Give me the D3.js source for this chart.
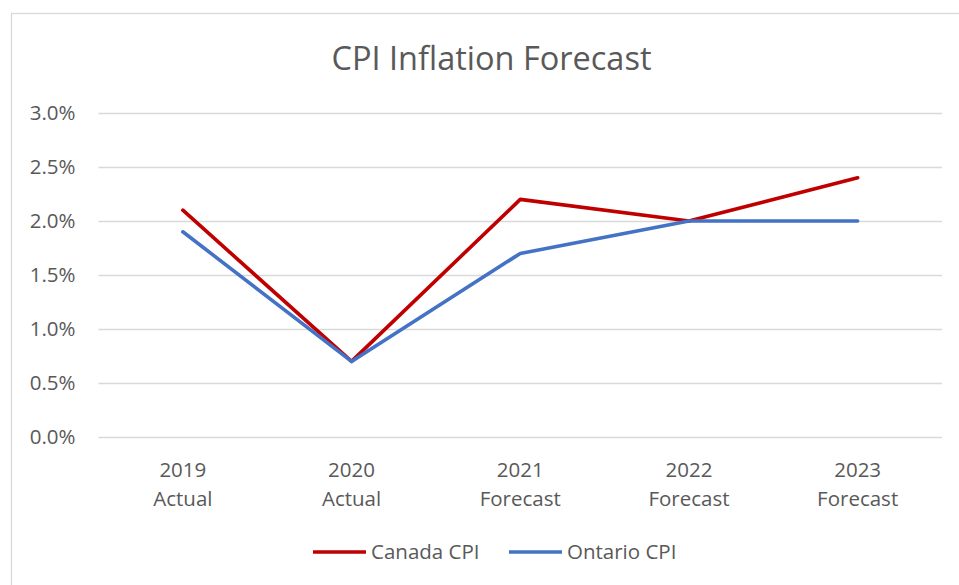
<!DOCTYPE html>
<html>
<head>
<meta charset="utf-8">
<script src="https://cdn.jsdelivr.net/npm/d3@7"></script>
<style>
  body { margin: 0; background: #fff; }
  svg { display: block; font-family: "Open Sans", sans-serif; }
</style>
</head>
<body>
<div id="chart"></div>
<script>
var years = ['2019', '2020', '2021', '2022', '2023'];
var kinds = ['Actual', 'Actual', 'Forecast', 'Forecast', 'Forecast'];
var canadaCPI = [2.1, 0.7, 2.2, 2.0, 2.4];
var ontarioCPI = [1.9, 0.7, 1.7, 2.0, 2.0];
var yTicks = [0, 0.5, 1.0, 1.5, 2.0, 2.5, 3.0];
var seriesNames = ['Canada CPI', 'Ontario CPI'];
var seriesColors = ['#C00000', '#4472C4'];

var width = 959, height = 585;
var margin = {left: 98.5, right: 17, top: 113, bottom: 148};
var textColor = '#595959';

var svg = d3.select('#chart')
    .append('svg')
    .attr('width', width)
    .attr('height', height);

// chart frame (runs off the right/bottom edge like the source)
svg.append('rect')
    .attr('x', 11.5)
    .attr('y', 13.5)
    .attr('width', width + 20)
    .attr('height', height + 20)
    .attr('fill', '#fff')
    .attr('stroke', '#d9d9d9')
    .attr('stroke-width', 1.3);

var x = d3.scaleBand()
    .domain(years)
    .range([margin.left, width - margin.right]);

var y = d3.scaleLinear()
    .domain([0, 3])
    .range([height - margin.bottom, margin.top]);

// gridlines + y labels
var yAxis = d3.axisLeft(y)
    .tickValues(yTicks)
    .tickSize(-(width - margin.right - margin.left))
    .tickPadding(23)
    .tickFormat(function(d) { return d3.format('.1f')(d) + '%'; });

var gy = svg.append('g')
    .attr('transform', 'translate(' + margin.left + ',0)')
    .call(yAxis);
gy.select('.domain').remove();
gy.selectAll('line').attr('stroke', '#d9d9d9').attr('stroke-width', 1.3);
gy.selectAll('text')
    .attr('fill', textColor)
    .style('font-size', '20.5px')
    .style('font-family', '"Open Sans", sans-serif');

// x labels, two lines each
var gx = svg.append('g');
gx.selectAll('text')
    .data(years)
    .enter().append('text')
    .attr('text-anchor', 'middle')
    .attr('fill', textColor)
    .style('font-size', '20.5px')
    .each(function(d, i) {
        var t = d3.select(this);
        var cx = x(d) + x.bandwidth() / 2;
        t.append('tspan').attr('x', cx).attr('y', 477).text(d);
        t.append('tspan').attr('x', cx).attr('y', 506).text(kinds[i]);
    });

// lines
var line = d3.line()
    .x(function(d, i) { return x(years[i]) + x.bandwidth() / 2; })
    .y(function(d) { return y(d); });

[canadaCPI, ontarioCPI].forEach(function(vals, i) {
    svg.append('path')
        .datum(vals)
        .attr('d', line)
        .attr('fill', 'none')
        .attr('stroke', seriesColors[i])
        .attr('stroke-width', 3.6)
        .attr('stroke-linejoin', 'round')
        .attr('stroke-linecap', 'round');
});

// title
svg.append('text')
    .attr('x', 491.5)
    .attr('y', 69.5)
    .attr('text-anchor', 'middle')
    .attr('fill', textColor)
    .style('font-size', '32.5px')
    .text('CPI Inflation Forecast');

// legend
var legendX = [313, 509];
var legend = svg.append('g');
seriesNames.forEach(function(name, i) {
    legend.append('line')
        .attr('x1', legendX[i]).attr('x2', legendX[i] + 53)
        .attr('y1', 552).attr('y2', 552)
        .attr('stroke', seriesColors[i])
        .attr('stroke-width', 3.6);
    legend.append('text')
        .attr('x', legendX[i] + 58)
        .attr('y', 559)
        .attr('fill', textColor)
        .style('font-size', '20.5px')
        .text(name);
});
</script>
</body>
</html>
